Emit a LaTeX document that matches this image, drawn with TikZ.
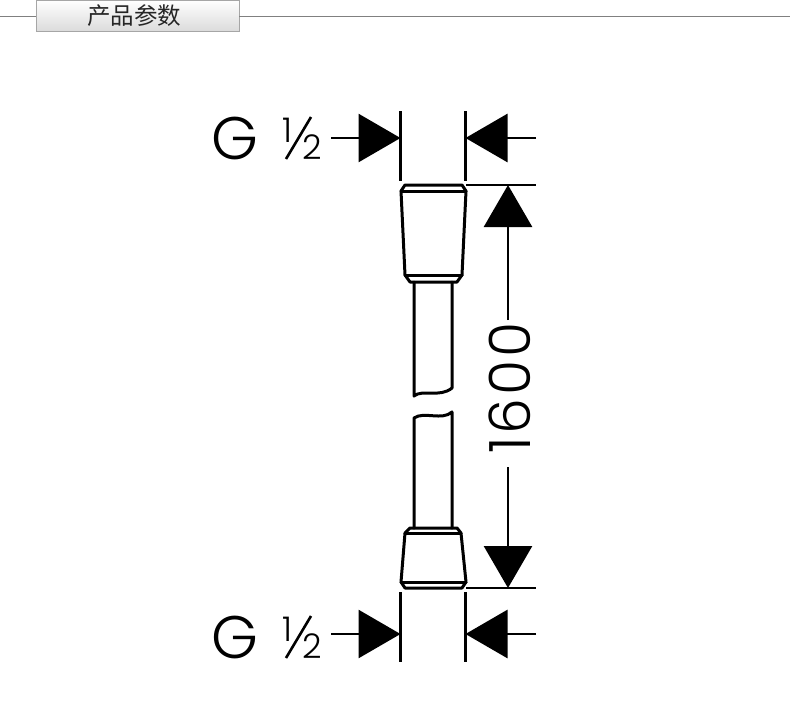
\documentclass[tikz,border=0pt]{standalone}
\usepackage{fontspec}
\newfontfamily\dimfont{Poppins Light}
\newfontfamily\lenfont{Poppins Light}[LetterSpace=5]
\newfontfamily\cjk{Noto Sans CJK SC}
\usetikzlibrary{arrows.meta}

\tikzset{
	hose/.style={line width=3pt,line join=round,line cap=round},
	extline/.style={line width=2.8pt},
	dimline/.style={line width=2.8pt,-{Triangle[length=42pt,width=48pt,sep=0pt]}},
	dimtext/.style={inner sep=0pt,font=\dimfont\fontsize{60}{60}\selectfont},
	lentext/.style={inner sep=0pt,font=\lenfont\fontsize{57}{57}\selectfont},
	fractext/.style={inner sep=0pt,font=\dimfont\fontsize{34}{34}\selectfont},
	tabrule/.style={draw=black!50,line width=1pt},
}

\begin{document}
\begin{tikzpicture}[x=1pt,y=-1pt]
	\useasboundingbox (0,0) rectangle (790,724);

	% heading tab
	\coordinate (ruleL) at (0,16);
	\coordinate (ruleR) at (790,16);
	\node (tab) [minimum width=203pt,minimum height=31pt,inner sep=0pt,draw=black!35,top color=white,bottom color=black!14] at (137.5,15.5) {};
	\node (title) [inner sep=0pt,font=\cjk\fontsize{23.5}{23.5}\selectfont,text=black!85] at (134,16) {产品参数};
	\draw [tabrule] (ruleL) -- (tab.west |- ruleL);
	\draw [tabrule] (tab.east |- ruleR) -- (ruleR);

	% upper width
	\node (G1) [dimtext] at (235,138) {G};
	\node (one1) [fractext] at (287,130) {1};
	\node (two1) [fractext] at (312,147) {2};
	\coordinate (sa1) at (286,159);
	\coordinate (sb1) at (311,117);
	\draw [line width=2.6pt] (sa1) -- (sb1);
	\coordinate (ea1) at (400.5,111);
	\coordinate (eb1) at (400.5,181);
	\coordinate (ec1) at (465.5,111);
	\coordinate (ed1) at (465.5,181);
	\draw [extline] (ea1) -- (eb1);
	\draw [extline] (ec1) -- (ed1);
	\coordinate (al1) at (331,138);
	\coordinate (ar1) at (536,138);
	\draw [dimline] (al1) -- (400.5,138);
	\draw [dimline] (ar1) -- (465.5,138);

	% lower width
	\node (G2) [dimtext] at (235,637) {G};
	\node (one2) [fractext] at (287,629) {1};
	\node (two2) [fractext] at (312,646) {2};
	\coordinate (sa2) at (286,658);
	\coordinate (sb2) at (311,616);
	\draw [line width=2.6pt] (sa2) -- (sb2);
	\coordinate (ea2) at (400.5,592);
	\coordinate (eb2) at (400.5,662);
	\coordinate (ec2) at (465.5,592);
	\coordinate (ed2) at (465.5,662);
	\draw [extline] (ea2) -- (eb2);
	\draw [extline] (ec2) -- (ed2);
	\coordinate (al2) at (331,634);
	\coordinate (ar2) at (536,634);
	\draw [dimline] (al2) -- (400.5,634);
	\draw [dimline] (ar2) -- (465.5,634);

	% length
	\coordinate (top) at (508,185);
	\coordinate (bot) at (508,588);
	\node (len) [lentext,rotate=90] at (510,388) {1600};
	\draw [extline] (466,185) -- (536,185);
	\draw [extline] (466,588) -- (536,588);
	\draw [dimline] (508,320) -- (top);
	\draw [dimline] (508,467) -- (bot);

	% upper fitting
	\draw [hose] (405,185) -- (462,185) -- (466,191) -- (462,275) -- (457,282) -- (410,282) -- (405,275) -- (401,191) -- cycle;
	\draw [hose] (401,191) -- (466,191);
	\draw [hose] (405,275) -- (462,275);
	\draw [hose] (414,282) -- (414,396) .. controls (422,389) and (440,398) .. (452,388) -- (452,282);

	% lower fitting
	\draw [hose] (410,528) -- (457,528) -- (461,533) -- (466,582) -- (462,588) -- (405,588) -- (401,582) -- (405,533) -- cycle;
	\draw [hose] (405,533) -- (461,533);
	\draw [hose] (401,582) -- (466,582);
	\draw [hose] (414,528) -- (414,418) .. controls (424,411) and (442,421) .. (452,412) -- (452,528);
\end{tikzpicture}
\end{document}
